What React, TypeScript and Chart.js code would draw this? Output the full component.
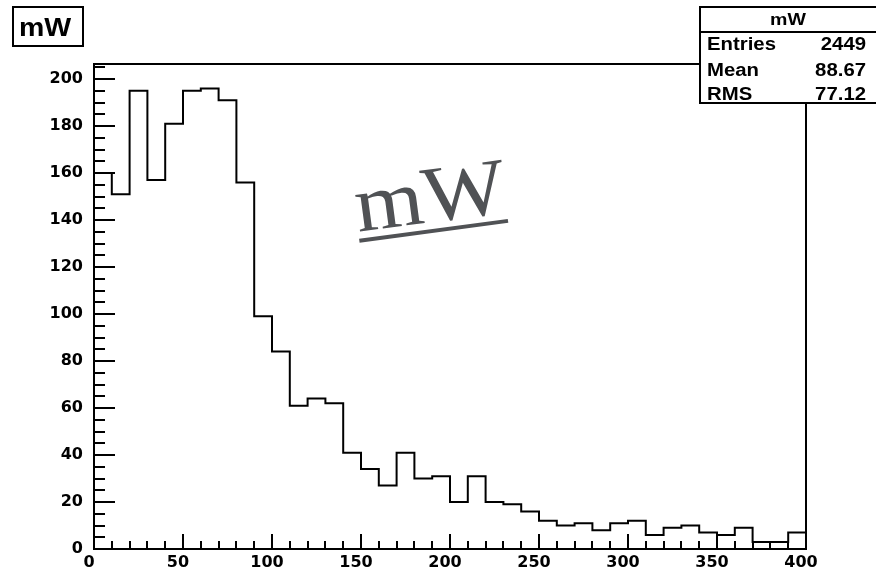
import React, { useEffect, useRef } from "react";
import { Chart, registerables } from "chart.js";

Chart.register(...registerables);

// ---- data ----
const BIN_WIDTH = 10;
const X_MIN = 0;
const X_MAX = 400;
const Y_MAX = 206.4;
const COUNTS = [
  160, 151, 195, 157, 181, 195, 196, 191, 156, 99,
  84, 61, 64, 62, 41, 34, 27, 41, 30, 31,
  20, 31, 20, 19, 16, 12, 10, 11, 8, 11,
  12, 6, 9, 10, 7, 6, 9, 3, 3, 7,
];
const X_TICKS = [0, 50, 100, 150, 200, 250, 300, 350, 400];
const Y_TICKS = [0, 20, 40, 60, 80, 100, 120, 140, 160, 180, 200];
const X_MINOR_STEP = 10;
const Y_MINOR_STEP = 5;

const TITLE = "mW";
const STAT_NAMES = ["Entries", "Mean", "RMS"];
const STAT_VALUES = ["2449", "88.67", "77.12"];
const LATEX_TEXT = "mW";

function stretchedText(
  ctx: CanvasRenderingContext2D,
  text: string,
  x: number,
  y: number,
  sx: number,
  align: CanvasTextAlign
) {
  ctx.save();
  ctx.translate(x, y);
  ctx.scale(sx, 1);
  ctx.textAlign = align;
  ctx.textBaseline = "alphabetic";
  ctx.fillText(text, 0, 0);
  ctx.restore();
}

const rootPlugin = {
  id: "rootStyle",
  afterDatasetsDraw(chart: any) {
    const { ctx, chartArea: a, scales } = chart;
    const xs = scales.x;
    const ys = scales.y;
    ctx.save();
    ctx.strokeStyle = "#000";
    ctx.lineWidth = 2;
    ctx.lineCap = "butt";

    // inward ticks on x axis
    for (let v = X_MIN; v <= X_MAX; v += X_MINOR_STEP) {
      const px = Math.round(xs.getPixelForValue(v));
      const len = X_TICKS.includes(v) ? 15 : 8;
      ctx.beginPath();
      ctx.moveTo(px, a.bottom);
      ctx.lineTo(px, a.bottom - len);
      ctx.stroke();
    }
    // inward ticks on y axis
    for (let v = 0; v <= Y_MAX; v += Y_MINOR_STEP) {
      const py = Math.round(ys.getPixelForValue(v));
      const len = Y_TICKS.includes(v) ? 21 : 11;
      ctx.beginPath();
      ctx.moveTo(a.left, py);
      ctx.lineTo(a.left + len, py);
      ctx.stroke();
    }
    // frame
    ctx.strokeRect(a.left, a.top, a.right - a.left, a.bottom - a.top);

    // big rotated latex text
    const ox = a.left + 0.371 * (a.right - a.left);
    const oy = a.top + 0.346 * (a.bottom - a.top);
    ctx.save();
    ctx.translate(ox, oy);
    ctx.rotate((-7.6 * Math.PI) / 180);
    ctx.fillStyle = "#505255";
    ctx.fillRect(0, 7, 150, 4);
    ctx.scale(1.1, 1);
    ctx.font = '80px "Liberation Serif"';
    ctx.textAlign = "left";
    ctx.textBaseline = "alphabetic";
    ctx.fillText(LATEX_TEXT, 0, 0);
    ctx.restore();

    // title box
    ctx.fillStyle = "#fff";
    ctx.fillRect(13, 7, 70, 39);
    ctx.strokeRect(13, 7, 70, 39);
    ctx.fillStyle = "#000";
    ctx.font = 'bold 25px "Liberation Sans"';
    stretchedText(ctx, TITLE, 19, 36, 1.14, "left");

    // stats box
    ctx.fillStyle = "#fff";
    ctx.fillRect(700, 7, 180, 96);
    ctx.strokeRect(700, 7, 180, 96);
    ctx.beginPath();
    ctx.moveTo(700, 32);
    ctx.lineTo(880, 32);
    ctx.stroke();
    ctx.fillStyle = "#000";
    ctx.font = 'bold 17px "Liberation Sans"';
    stretchedText(ctx, TITLE, 788, 25, 1.15, "center");
    const rows = [50, 76, 100];
    ctx.font = 'bold 18px "Liberation Sans"';
    STAT_NAMES.forEach((n, i) => {
      stretchedText(ctx, n, 707, rows[i], 1.13, "left");
      stretchedText(ctx, STAT_VALUES[i], 866, rows[i], 1.13, "right");
    });
    ctx.restore();
  },
};

export default function App() {
  const ref = useRef<HTMLCanvasElement | null>(null);

  useEffect(() => {
    const canvas = ref.current;
    if (!canvas) return;
    const points: { x: number; y: number }[] = [{ x: X_MIN, y: 0 }];
    COUNTS.forEach((c, i) => points.push({ x: X_MIN + i * BIN_WIDTH, y: c }));
    points.push({ x: X_MAX, y: 0 });

    const tickFont = { family: '"DejaVu Sans"', size: 16, weight: "bold" as const };
    const chart = new Chart(canvas, {
      type: "line",
      data: {
        datasets: [
          {
            data: points,
            stepped: "before",
            borderColor: "#000",
            borderWidth: 2,
            pointRadius: 0,
            fill: false,
            tension: 0,
          } as any,
        ],
      },
      options: {
        animation: false,
        responsive: false,
        maintainAspectRatio: false,
        devicePixelRatio: 1,
        layout: { padding: { left: 0, top: 64, right: 70, bottom: 0 } },
        plugins: {
          legend: { display: false },
          tooltip: { enabled: false },
          title: { display: false },
        },
        scales: {
          x: {
            type: "linear",
            min: X_MIN,
            max: X_MAX,
            grid: { display: false, drawTicks: false },
            border: { display: false },
            ticks: {
              font: tickFont,
              color: "#000",
              padding: 4,
              labelOffset: -5,
              maxRotation: 0,
              autoSkip: false,
              callback: (v: any) => String(v),
            },
            afterBuildTicks: (s: any) => {
              s.ticks = X_TICKS.map((v) => ({ value: v }));
            },
            afterFit: (s: any) => {
              s.height = 24;
            },
          },
          y: {
            type: "linear",
            min: 0,
            max: Y_MAX,
            grid: { display: false, drawTicks: false },
            border: { display: false },
            ticks: {
              font: tickFont,
              color: "#000",
              padding: 11,
              autoSkip: false,
              callback: (v: any) => String(v),
            },
            afterBuildTicks: (s: any) => {
              s.ticks = Y_TICKS.map((v) => ({ value: v }));
            },
            afterFit: (s: any) => {
              s.width = 94;
            },
          },
        },
      },
      plugins: [rootPlugin],
    });
    return () => chart.destroy();
  }, []);

  return (
    <div style={{ position: "absolute", left: 0, top: 0, width: 876, height: 573, background: "#fff" }}>
      <canvas ref={ref} width={876} height={573} style={{ width: 876, height: 573, display: "block" }} />
    </div>
  );
}
